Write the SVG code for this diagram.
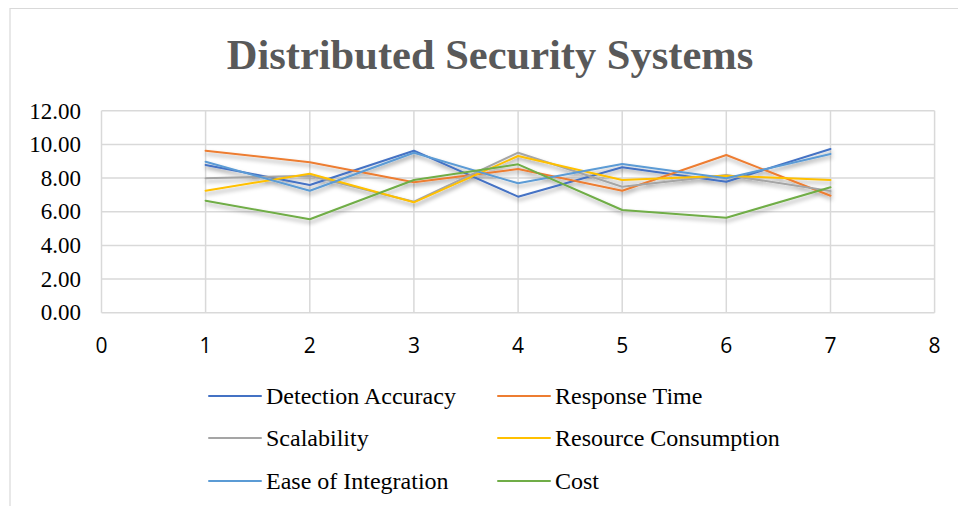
<svg xmlns="http://www.w3.org/2000/svg" width="958" height="506" viewBox="0 0 958 506">
<style>
.grid{stroke:#d9d9d9;stroke-width:1.5;fill:none}
.frame{stroke:#d9d9d9;stroke-width:1.2;fill:none}
.ser{fill:none;stroke-width:2;stroke-linejoin:round;stroke-linecap:round}
.ylab{font-family:"Liberation Serif","Times New Roman",serif;font-size:23px;fill:#000;text-anchor:end}
.xlab{font-family:"Open Sans","Liberation Sans",sans-serif;font-size:21px;fill:#000;text-anchor:middle}
.leg{font-family:"Liberation Serif","Times New Roman",serif;font-size:24px;fill:#000}
.title{font-family:"Liberation Serif","Times New Roman",serif;font-size:42.5px;font-weight:bold;fill:#595959;text-anchor:middle}
.da{stroke:#4472C4}.rt{stroke:#ED7D31}.sc{stroke:#A5A5A5}.rc{stroke:#FFC000}.ei{stroke:#5B9BD5}.co{stroke:#70AD47}
</style>
<defs>
<filter id="sh" x="-5%" y="-20%" width="110%" height="160%">
<feDropShadow dx="1" dy="3" stdDeviation="2.2" flood-color="#000" flood-opacity="0.35"/>
</filter>
</defs>
<rect width="958" height="506" fill="#fff"/>
<path class="frame" d="M10,506 V8.5 H958"/>
<text id="title" class="title" x="490" y="69">Distributed Security Systems</text>
<g id="grid">
<path class="grid" d="M101.5,110.7H934.6M101.5,144.4H934.6M101.5,178.1H934.6M101.5,211.7H934.6M101.5,245.4H934.6M101.5,279.0H934.6M101.5,312.7H934.6"/>
<path class="grid" d="M101.5,110.7V312.7M205.6,110.7V312.7M309.8,110.7V312.7M413.9,110.7V312.7M518.1,110.7V312.7M622.2,110.7V312.7M726.3,110.7V312.7M830.5,110.7V312.7M934.6,110.7V312.7"/>
</g>
<g id="y-axis">
<text class="ylab" x="81" y="118.5">12.00</text>
<text class="ylab" x="81" y="152">10.00</text>
<text class="ylab" x="81" y="185.7">8.00</text>
<text class="ylab" x="81" y="219.3">6.00</text>
<text class="ylab" x="81" y="253">4.00</text>
<text class="ylab" x="81" y="286.6">2.00</text>
<text class="ylab" x="81" y="320">0.00</text>
</g>
<g id="x-axis">
<text class="xlab" x="101.5" y="352.7">0</text>
<text class="xlab" x="205.6" y="352.7">1</text>
<text class="xlab" x="309.8" y="352.7">2</text>
<text class="xlab" x="413.9" y="352.7">3</text>
<text class="xlab" x="518.1" y="352.7">4</text>
<text class="xlab" x="622.2" y="352.7">5</text>
<text class="xlab" x="726.3" y="352.7">6</text>
<text class="xlab" x="830.5" y="352.7">7</text>
<text class="xlab" x="934.6" y="352.7">8</text>
</g>
<g id="series" filter="url(#sh)">
<polyline id="s-detection" class="ser da" points="205.6,165 309.8,185 413.9,150.7 518.1,196.7 622.2,167.3 726.3,181.7 830.5,149"/>
<polyline id="s-response" class="ser rt" points="205.6,150.7 309.8,162.3 413.9,182.3 518.1,169 622.2,190.7 726.3,155 830.5,195.7"/>
<polyline id="s-scalability" class="ser sc" points="205.6,178.3 309.8,175.7 413.9,201.7 518.1,152.7 622.2,186.7 726.3,175 830.5,191"/>
<polyline id="s-resource" class="ser rc" points="205.6,190.7 309.8,173.7 413.9,202.3 518.1,156 622.2,180 726.3,175.7 830.5,180"/>
<polyline id="s-ease" class="ser ei" points="205.6,161.7 309.8,190.7 413.9,152.7 518.1,183.3 622.2,164 726.3,178.3 830.5,154"/>
<polyline id="s-cost" class="ser co" points="205.6,200.7 309.8,219.3 413.9,180 518.1,164.3 622.2,210 726.3,217.7 830.5,187.3"/>
</g>
<g id="legend">
<g id="leg-detection"><line class="ser da" x1="209" y1="396" x2="261" y2="396"/><text class="leg" x="266" y="404">Detection Accuracy</text></g>
<g id="leg-response"><line class="ser rt" x1="498" y1="396" x2="550" y2="396"/><text class="leg" x="555" y="404">Response Time</text></g>
<g id="leg-scalability"><line class="ser sc" x1="209" y1="438" x2="261" y2="438"/><text class="leg" x="266" y="446">Scalability</text></g>
<g id="leg-resource"><line class="ser rc" x1="498" y1="438" x2="550" y2="438"/><text class="leg" x="555" y="446">Resource Consumption</text></g>
<g id="leg-ease"><line class="ser ei" x1="209" y1="481" x2="261" y2="481"/><text class="leg" x="266" y="489">Ease of Integration</text></g>
<g id="leg-cost"><line class="ser co" x1="498" y1="481" x2="550" y2="481"/><text class="leg" x="555" y="489">Cost</text></g>
</g>
</svg>
